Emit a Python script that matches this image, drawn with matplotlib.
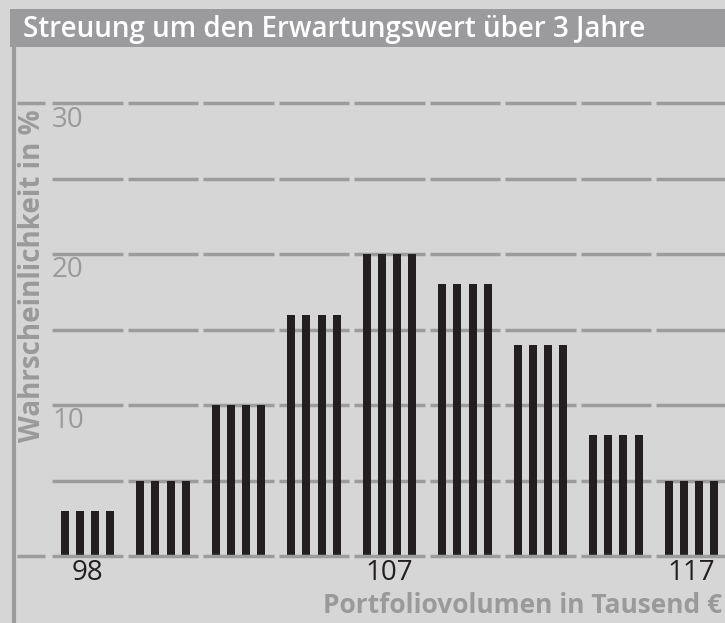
import numpy as np
import matplotlib.pyplot as plt
from matplotlib.lines import Line2D
from matplotlib.patches import Rectangle

# chart data
groups = np.arange(9)
probability = [3, 5, 10, 16, 20, 18, 14, 8, 5]
xtick_pos = [0, 4, 8]
xtick_labels = ["98", "107", "117"]
ytick_values = [10, 20, 30]
grid_levels = [0, 5, 10, 15, 20, 25, 30]
stub_levels = [0, 30]   # only these have the short dash left of the first slot

title = "Streuung um den Erwartungswert über 3 Jahre"
ylabel = "Wahrscheinlichkeit in %"
xlabel = "Portfoliovolumen in Tausend €"

BG = "#d6d6d6"
BAR = "#231f20"
GRID = "#9c9c9c"
LABEL = "#9a9a9a"
HEADER = "#9b9b9d"

plt.rcParams["font.family"] = ["Open Sans", "DejaVu Sans"]

W, H = 725, 623
fig = plt.figure(figsize=(W / 100, H / 100), dpi=100, facecolor=BG)
ax = fig.add_axes([13 / W, 67 / H, 712 / W, 510 / H])
ax.set_facecolor(BG)
ax.set_xlim(-0.987, 8.444)
ax.set_ylim(0, 33.8)
for s in ax.spines.values():
    s.set_visible(False)
ax.set_xticks([])
ax.set_yticks([])

# segmented gridlines, one dash per group slot
half = 0.47
for lvl in grid_levels:
    z = 3 if lvl == 0 else 1
    ax.hlines([lvl] * len(groups), groups - half, groups + half,
              color=GRID, lw=2.5, zorder=z, clip_on=False)
    if lvl in stub_levels:
        ax.hlines(lvl, -0.935, -half - 0.09, color=GRID, lw=2.5, zorder=z,
                  clip_on=False)

# each category drawn as four thin stripes
offsets = np.array([-1.5, -0.5, 0.5, 1.5]) * 0.199
for off in offsets:
    ax.bar(groups + off, probability, width=0.106, color=BAR, zorder=2)

for v in ytick_values:
    ax.text(-half, v - 0.15, str(v), ha="left", va="top",
            color=LABEL, fontsize=20)

for p, lab in zip(xtick_pos, xtick_labels):
    ax.text(p, -0.2, lab, ha="center", va="top", color=BAR, fontsize=20)

# header bar + left rule
fig.add_artist(Rectangle((10 / W, (H - 46.5) / H), 1, 37.5 / H,
                         transform=fig.transFigure, color=HEADER, lw=0))
fig.text(23 / W, (H - 37) / H, title, color="white", fontsize=20,
         fontweight="semibold", va="baseline", ha="left")
fig.add_artist(Line2D([14 / W, 14 / W], [0, (H - 46) / H],
                      transform=fig.transFigure, color=GRID, lw=3))

fig.text(33 / W, (H - 276) / H, ylabel, rotation=90, color=LABEL,
         fontsize=20, fontweight="bold", ha="center", va="center")
fig.text(323 / W, 10 / H, xlabel, color=LABEL, fontsize=19,
         fontweight="bold", ha="left", va="baseline")

fig.savefig("out.png", dpi=100, facecolor=BG)
